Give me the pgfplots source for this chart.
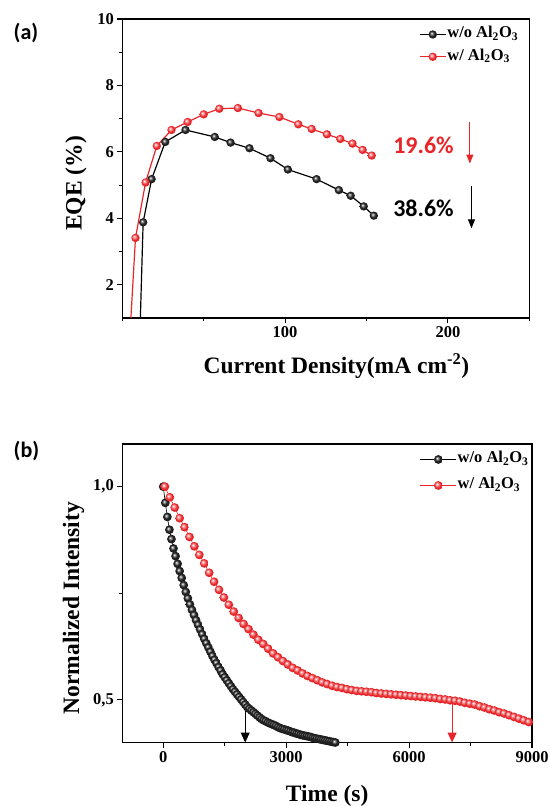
\documentclass[border=0pt]{standalone}
\usepackage{pgfplots}
\pgfplotsset{compat=1.18}
\usepackage{pgfplotstable}
\usepackage{fontspec}
\setmainfont{Liberation Serif}
\newfontfamily\calibri{Carlito}
\usetikzlibrary{arrows.meta}
\definecolor{myred}{RGB}{232,38,42}
\newcommand\tl{\bfseries\fontsize{16.5}{17}\selectfont}
\newcommand\lb{\bfseries\fontsize{23.5}{24}\selectfont}
\pgfdeclareradialshading{redballshade}{\pgfpoint{-9bp}{9bp}}{color(0bp)=(white); color(7bp)=(myred!45!white); color(18bp)=(myred); color(42bp)=(myred!92!black); color(50bp)=(myred!75!black)}
\pgfdeclareradialshading{blackballshade}{\pgfpoint{-8bp}{8bp}}{color(0bp)=(white); color(5bp)=(black!35); color(14bp)=(black!85); color(50bp)=(black)}
\pgfdeclareplotmark{redball}{\pgfpathcircle{\pgfpointorigin}{\pgfplotmarksize}\pgfshadepath{redballshade}{0}\pgfusepath{}}
\pgfdeclareplotmark{blackball}{\pgfpathcircle{\pgfpointorigin}{\pgfplotmarksize}\pgfshadepath{blackballshade}{0}\pgfusepath{}}

\pgfplotstableread{
t I
0 1.000
50 0.962
100 0.929
150 0.899
200 0.877
250 0.855
300 0.837
350 0.819
400 0.802
450 0.786
500 0.769
550 0.753
600 0.738
650 0.724
700 0.711
750 0.699
800 0.687
850 0.676
900 0.665
950 0.654
1000 0.643
1050 0.633
1100 0.623
1150 0.613
1200 0.603
1250 0.594
1300 0.586
1350 0.577
1400 0.569
1450 0.560
1500 0.553
1550 0.546
1600 0.539
1650 0.532
1700 0.525
1750 0.519
1800 0.513
1850 0.507
1900 0.501
1950 0.495
2000 0.489
2050 0.483
2100 0.479
2150 0.475
2200 0.471
2250 0.467
2300 0.463
2350 0.459
2400 0.455
2450 0.452
2500 0.450
2550 0.447
2600 0.445
2650 0.443
2700 0.441
2750 0.439
2800 0.436
2850 0.434
2900 0.432
2950 0.431
3000 0.429
3050 0.428
3100 0.426
3150 0.424
3200 0.423
3250 0.421
3300 0.420
3350 0.418
3400 0.417
3450 0.416
3500 0.415
3550 0.414
3600 0.413
3650 0.411
3700 0.410
3750 0.409
3800 0.408
3850 0.407
3900 0.406
3950 0.405
4000 0.404
4050 0.403
4100 0.402
4150 0.401
4200 0.400
4250 0.399
4300 0.398
}\blackdata

\pgfplotstableread{
t I
40 1.000
160 0.975
280 0.951
400 0.926
520 0.905
640 0.882
760 0.860
880 0.840
1000 0.820
1120 0.798
1240 0.777
1360 0.758
1480 0.740
1600 0.723
1720 0.707
1840 0.692
1960 0.678
2080 0.666
2200 0.653
2320 0.641
2440 0.631
2560 0.620
2680 0.609
2800 0.600
2920 0.591
3040 0.583
3160 0.575
3280 0.569
3400 0.562
3520 0.556
3640 0.551
3760 0.546
3880 0.541
4000 0.537
4120 0.533
4240 0.530
4360 0.528
4480 0.525
4600 0.523
4720 0.521
4840 0.520
4960 0.519
5080 0.518
5200 0.516
5320 0.515
5440 0.514
5560 0.513
5680 0.512
5800 0.511
5920 0.510
6040 0.509
6160 0.508
6280 0.507
6400 0.506
6520 0.505
6640 0.504
6760 0.502
6880 0.501
7000 0.499
7120 0.498
7240 0.496
7360 0.493
7480 0.491
7600 0.489
7720 0.485
7840 0.482
7960 0.478
8080 0.475
8200 0.471
8320 0.468
8440 0.464
8560 0.460
8680 0.456
8800 0.452
8920 0.448
9040 0.443
}\reddata

\begin{document}
\begin{tikzpicture}
\useasboundingbox (0,0) rectangle (549pt,-806pt);
\pgfplotsset{
  myaxis/.style={
    scale only axis,
    axis line style={line width=1.2pt},
    tick align=outside,
    tick pos=left,
    major tick length=5pt,
    minor tick length=3pt,
    tick style={line width=1.1pt, black},
    legend cell align=left,
    legend style={draw=none, fill=none, inner sep=0pt, outer sep=0pt,
      nodes={inner sep=1pt, text height=12pt, text depth=5pt}},
  }
}
\node[font=\calibri\bfseries\fontsize{22}{22}\selectfont] at (26pt,-32.5pt) {(a)};
\node[font=\calibri\bfseries\fontsize{22}{22}\selectfont] at (26.5pt,-451pt) {(b)};

\begin{axis}[myaxis, at={(122.3pt,-19pt)}, anchor=north west,
  width=407pt, height=299pt,
  xmin=0, xmax=250, ymin=1, ymax=10,
  xtick={100,200}, xticklabels={{\tl 100},{\tl 200}},
  minor xtick={0,50,150,250},
  ytick={2,4,6,8,10}, yticklabels={{\tl 2},{\tl 4},{\tl 6},{\tl 8},{\tl 10}},
  minor ytick={3,5,7,9},
  xlabel={\lb Current Density(mA cm\textsuperscript{-2})},
  ylabel={\lb EQE (\%)},
  xlabel style={at={(axis description cs:0.526,-0.16)}, anchor=center},
  ylabel style={at={(axis description cs:-0.114,0.45)}, anchor=center},
  legend style={at={(axis description cs:0.975,0.98)}, anchor=north east, row sep=3.3pt},
  legend image code/.code={\draw[mark repeat=2,mark phase=2,#1] plot coordinates {(0pt,0pt)(13pt,0pt)(26pt,0pt)};},
]
\addplot[black, line width=1.2pt, mark=blackball, mark size=4.2pt] coordinates {
(12.8,3.88)(18.0,5.18)(26.4,6.30)(38.8,6.66)(56.8,6.45)(66.5,6.28)(78.1,6.11)(91.0,5.81)(101.7,5.47)(119.3,5.18)(133.0,4.85)(140.3,4.68)(148.3,4.36)(154.5,4.08)};
\addlegendentry{\tl w/o Al\textsubscript{2}O\textsubscript{3}}
\addplot[myred, line width=1.2pt, mark=redball, mark size=4.2pt] coordinates {
(8.1,3.41)(14.3,5.08)(21.2,6.18)(30.2,6.66)(40.1,6.90)(50.0,7.13)(59.6,7.30)(71.0,7.32)(83.7,7.17)(96.5,7.05)(108.1,6.83)(116.3,6.69)(125.7,6.53)(133.9,6.39)(141.4,6.25)(147.6,6.06)(153.2,5.89)};
\addlegendentry{\tl w/ Al\textsubscript{2}O\textsubscript{3}}
\addplot[black, line width=1.2pt, forget plot] coordinates {(10.8,0.5)(12.8,3.88)};
\addplot[myred, line width=1.2pt, forget plot] coordinates {(4.7,0.5)(8.1,3.41)};
\node[font=\calibri\bfseries\fontsize{24}{24}\selectfont, text=myred] at (axis cs:185,6.2) {19.6\%};
\node[font=\calibri\bfseries\fontsize{24}{24}\selectfont, text=black] at (axis cs:185,4.31) {38.6\%};
\draw[myred, line width=1.1pt, -{Triangle[length=9pt,width=7pt]}] (axis cs:213.5,6.91) -- (axis cs:213.5,5.65);
\draw[black, line width=1.1pt, -{Triangle[length=9pt,width=7pt]}] (axis cs:214.5,4.97) -- (axis cs:214.5,3.70);
\end{axis}

\begin{axis}[myaxis, at={(122.3pt,-444pt)}, anchor=north west,
  width=409.7pt, height=298.5pt,
  xmin=-1000, xmax=9000, ymin=0.4, ymax=1.1,
  scaled ticks=false,
  xtick={0,3000,6000,9000}, xticklabels={{\tl 0},{\tl 3000},{\tl 6000},{\tl 9000}},
  minor xtick={1500,4500,7500},
  ytick={0.5,1.0}, yticklabels={{\tl 0,5},{\tl 1,0}}, minor ytick={0.75},
  xlabel={\lb Time (s)},
  ylabel={\lb Normalized Intensity},
  xlabel style={at={(axis description cs:0.5,-0.179)}, anchor=center},
  ylabel style={at={(axis description cs:-0.119,0.45)}, anchor=center},
  legend style={at={(axis description cs:0.9937,0.98)}, anchor=north east, row sep=7pt},
  legend image code/.code={\draw[mark repeat=2,mark phase=2,#1] plot coordinates {(0pt,0pt)(18pt,0pt)(36pt,0pt)};},
]
\addplot[black, line width=0.6pt, mark=blackball, mark size=4.4pt] table[x=t,y=I] {\blackdata};
\addlegendentry{\tl w/o Al\textsubscript{2}O\textsubscript{3}}
\addplot[myred, line width=0.6pt, mark=redball, mark size=4.4pt] table[x=t,y=I] {\reddata};
\addlegendentry{\tl w/ Al\textsubscript{2}O\textsubscript{3}}
\draw[black, line width=1pt, -{Triangle[length=10pt,width=9pt]}] (axis cs:2000,0.475) -- (axis cs:2000,0.4);
\draw[myred, line width=1pt, -{Triangle[length=10pt,width=9pt]}] (axis cs:7050,0.49) -- (axis cs:7050,0.4);
\end{axis}
\end{tikzpicture}
\end{document}
